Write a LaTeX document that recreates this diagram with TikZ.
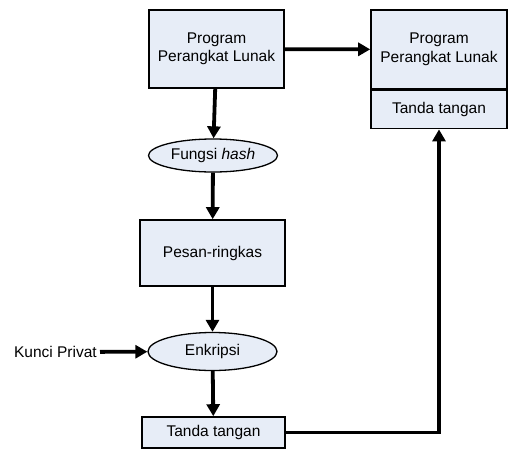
\documentclass[tikz,border=0pt]{standalone}
\usepackage{fontspec}
\setmainfont{Liberation Sans}
\usepackage{tikz}
\usetikzlibrary{positioning,arrows.meta,shapes.geometric}
\definecolor{boxfill}{RGB}{231,237,247}

\begin{document}
\begin{tikzpicture}[x=1pt,y=-1pt,>={Triangle[length=12pt,width=13pt]},
  every node/.style={font=\fontsize{15.5}{18.5}\selectfont},
  kotak/.style={draw,line width=1.6pt,fill=boxfill,inner sep=0pt,align=center},
  elips/.style={draw,ellipse,line width=1.3pt,fill=boxfill,inner sep=0pt},
  panah/.style={->,line width=3.8pt}]
\useasboundingbox (0,0) rectangle (508,458);
% kolom kiri
\node[kotak,minimum width=135pt,minimum height=78pt] (prog) at (216.5,49) {Program\\Perangkat Lunak};
\node[elips,minimum width=129pt,minimum height=33pt] (hash) at (213,155.5) {Fungsi \textit{hash}};
\node[kotak,minimum width=145pt,minimum height=66pt] (ringkas) at (212.5,253) {Pesan-ringkas};
\node[elips,minimum width=129pt,minimum height=38pt] (enkripsi) at (212.5,351.5) {Enkripsi};
\node[kotak,minimum width=143pt,minimum height=31pt] (ttd) at (213.5,432.5) {Tanda tangan};
\node[anchor=east,inner sep=3pt] (kunci) at (100,352) {Kunci Privat};
% kotak kanan
\node[kotak,minimum width=136pt,minimum height=79pt] (prog2) at (439,49.5) {Program\\Perangkat Lunak};
\node[kotak,minimum width=136pt,minimum height=38pt,anchor=north] (ttd2) at (prog2.south) {Tanda tangan};
% panah
\draw[panah] (prog) -- (hash);
\draw[panah] (hash) -- (ringkas);
\draw[panah] (ringkas) -- (enkripsi);
\draw[panah] (enkripsi) -- (ttd);
\draw[panah] (kunci) -- (enkripsi);
\draw[panah] (prog) -- (prog2);
\draw[panah] (ttd.east) -| (ttd2.south);
\end{tikzpicture}
\end{document}
